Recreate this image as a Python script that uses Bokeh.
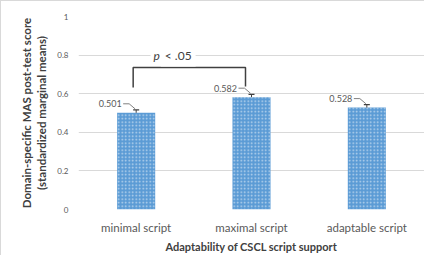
from bokeh.plotting import figure
from bokeh.models import FixedTicker, CustomJSTickFormatter, Label, ColumnDataSource
from bokeh.core.properties import value
from bokeh.embed import file_html
from bokeh.resources import INLINE

categories = ["minimal script", "maximal script", "adaptable script"]
means = [0.501, 0.582, 0.528]
errors = [0.015, 0.015, 0.015]
value_labels = ["0.501", "0.582", "0.528"]
y_ticks = [0, 0.2, 0.4, 0.6, 0.8, 1]
sig_text = "< .05"
sig_pair = [0, 1]  # indices of compared groups
sig_bracket_low = [0.632, 0.637]
sig_bracket_top = 0.736

xs = [i + 1 for i in range(len(categories))]

FONT = "Lato"
GRID = "#d9d9d9"
TXT = "#595959"
DARK = "#404040"

FW, FH = 346, 193
p = figure(frame_width=FW, frame_height=FH, x_range=(0.5, 3.5), y_range=(0, 1),
           output_backend="svg", toolbar_location=None,
           min_border_left=77, min_border_right=0, min_border_top=15, min_border_bottom=36)
p.styles = {"border-left": "1px solid #d9d9d9", "border-top": "1px solid #d9d9d9"}
p.outline_line_color = None
p.background_fill_color = "white"
p.border_fill_color = "white"

# axes
p.xaxis.ticker = FixedTicker(ticks=xs)
p.xaxis.major_label_overrides = {x: c for x, c in zip(xs, categories)}
p.yaxis.ticker = FixedTicker(ticks=y_ticks)
p.yaxis.formatter = CustomJSTickFormatter(code="return tick.toString();")
for ax in (p.xaxis[0], p.yaxis[0]):
    ax.axis_line_color = None
    ax.major_tick_line_color = None
    ax.minor_tick_line_color = None
    ax.major_tick_out = 0
    ax.major_tick_in = 0
    ax.minor_tick_out = 0
    ax.minor_tick_in = 0
    ax.major_label_text_font = FONT
    ax.major_label_text_color = TXT
    ax.axis_label_text_font = FONT
    ax.axis_label_text_font_style = "bold"
    ax.axis_label_text_color = DARK
p.yaxis.major_label_text_font_size = "8px"
p.xaxis.major_label_text_font_size = "11.5px"
p.yaxis.major_label_standoff = 10
p.xaxis.major_label_standoff = 11
p.xaxis.axis_label = "Adaptability of CSCL script support"
p.yaxis.axis_label = "Domain-specific MAS post-test score\n(standardized marginal means)"
p.xaxis.axis_label_text_font_size = "11px"
p.yaxis.axis_label_text_font_size = "11.5px"
p.xaxis.axis_label_standoff = 3
p.yaxis.axis_label_standoff = 6
p.xgrid.grid_line_color = None
p.ygrid.grid_line_color = GRID
p.ygrid.grid_line_width = 1

src = ColumnDataSource(dict(x=xs, top=means, err=errors,
                            hi=[m + e for m, e in zip(means, errors)],
                            lab=value_labels))
p.vbar(x="x", top="top", width=0.33, source=src, fill_color="#5B9BD5",
       line_color=None, hatch_pattern="dot", hatch_color="white",
       hatch_scale=3.5, hatch_weight=0.8, hatch_alpha=0.6)

# error bars
p.segment(x0="x", y0="top", x1="x", y1="hi", source=src, line_color=DARK, line_width=1)
p.rect(x="x", y="hi", width=6, height=1.2, width_units="screen", height_units="screen",
       source=src, fill_color=DARK, line_color=None)

# value labels with leader lines
px_x = 3.0 / FW   # data units per pixel in x
px_y = 1.0 / FH   # data units per pixel in y
p.text(x="x", y="top", text="lab", source=src, x_offset=-26, y_offset=-9,
       text_align="center", text_baseline="middle", text_font_size="9px",
       text_color=TXT, text_font=value(FONT))
lx, ly = [], []
for x, m, e in zip(xs, means, errors):
    lx.append([x - 13 * px_x, x - 7 * px_x, x - 1 * px_x])
    ly.append([m + 9 * px_y, m + 9 * px_y, m + e + 1 * px_y])
p.multi_line(xs=lx, ys=ly, line_color="#7f7f7f", line_width=1)

# significance bracket
bx0 = xs[sig_pair[0]] - 3 * px_x
bx1 = xs[sig_pair[1]] - 6 * px_x
p.line(x=[bx0, bx0, bx1, bx1],
       y=[sig_bracket_low[0], sig_bracket_top, sig_bracket_top, sig_bracket_low[1]],
       line_color=DARK, line_width=1.5)
mid = (xs[sig_pair[0]] + xs[sig_pair[1]]) / 2.0 - 15 * px_x
p.add_layout(Label(x=mid, y=0.8, x_offset=-18, text=sig_text, text_font=FONT,
                   text_font_size="12px", text_color=DARK,
                   text_align="left", text_baseline="middle",
                   background_fill_color="white", padding=4))
p.add_layout(Label(x=mid, y=0.8, x_offset=-16, text="p", text_font=FONT,
                   text_font_style="italic", text_font_size="12px", text_color=DARK,
                   text_align="right", text_baseline="middle",
                   background_fill_color="white", padding=3))

open("out.html", "w").write(file_html(p, INLINE))
